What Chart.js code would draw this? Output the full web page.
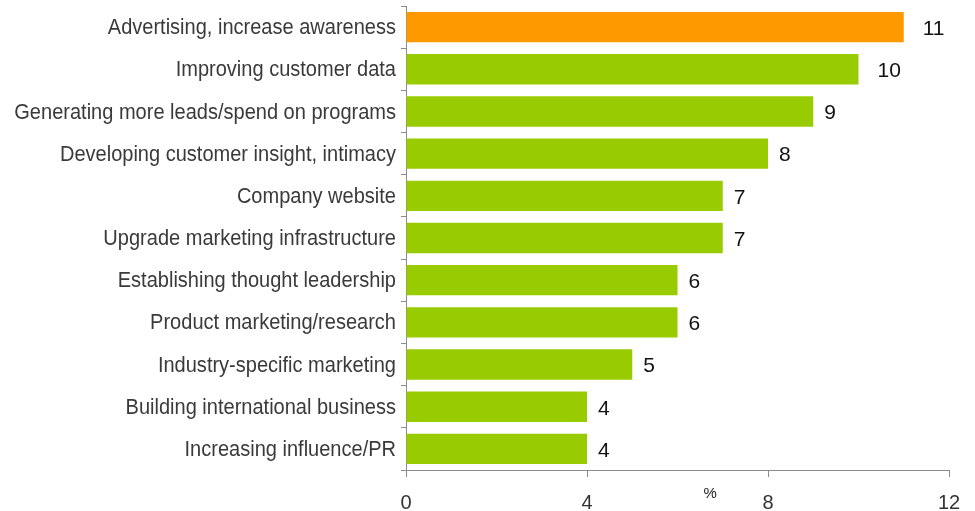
<!DOCTYPE html>
<html>
<head>
<meta charset="utf-8">
<title>Marketing priorities</title>
<script src="https://cdn.jsdelivr.net/npm/chart.js@4/dist/chart.umd.min.js"></script>
<style>
  html, body { margin: 0; padding: 0; background: #fff; }
  canvas { display: block; }
</style>
</head>
<body>
<canvas id="chart" width="975" height="511"></canvas>
<script>
  // categories, top to bottom
  const categories = [
    'Advertising, increase awareness',
    'Improving customer data',
    'Generating more leads/spend on programs',
    'Developing customer insight, intimacy',
    'Company website',
    'Upgrade marketing infrastructure',
    'Establishing thought leadership',
    'Product marketing/research',
    'Industry-specific marketing',
    'Building international business',
    'Increasing influence/PR'
  ];
  const shares = [11, 10, 9, 8, 7, 7, 6, 6, 5, 4, 4];
  const xTicks = [0, 4, 8, 12];

  const ORANGE = '#ff9900';
  const GREEN = '#99cc00';
  const AXIS = '#8c8c8c';
  const FONT = "'Liberation Sans', Arial, sans-serif";

  // category names, drawn slightly condensed so the long ones fit
  const categoryLabels = {
    id: 'categoryLabels',
    afterDraw(chart) {
      const y = chart.scales.y;
      const ctx = chart.ctx;
      const squeeze = 0.91;
      const right = y.right - 10;
      ctx.save();
      ctx.font = '22px ' + FONT;
      ctx.fillStyle = '#3a3a3a';
      ctx.textAlign = 'right';
      ctx.textBaseline = 'middle';
      categories.forEach((name, i) => {
        ctx.save();
        ctx.translate(right, y.getPixelForTick(i) + 1);
        ctx.scale(squeeze, 1);
        ctx.fillText(name, 0, 0);
        ctx.restore();
      });
      ctx.restore();
    }
  };

  // number to the right of each bar
  const valueLabels = {
    id: 'valueLabels',
    afterDatasetsDraw(chart) {
      const ctx = chart.ctx;
      const meta = chart.getDatasetMeta(0);
      ctx.save();
      ctx.font = '21px ' + FONT;
      ctx.fillStyle = '#111';
      ctx.textAlign = 'left';
      ctx.textBaseline = 'middle';
      meta.data.forEach((bar, i) => {
        const text = String(shares[i]);
        const gap = 11 + (text.length - 1) * 8;
        ctx.fillText(text, bar.x + gap, bar.y + 2);
      });
      ctx.restore();
    }
  };

  // small "%" unit mark under the axis
  const unitMark = {
    id: 'unitMark',
    afterDraw(chart) {
      const a = chart.chartArea;
      const ctx = chart.ctx;
      ctx.save();
      ctx.font = '15px ' + FONT;
      ctx.fillStyle = '#222';
      ctx.textAlign = 'center';
      ctx.textBaseline = 'middle';
      ctx.fillText('%', a.left + (a.right - a.left) * 0.56, a.bottom + 24);
      ctx.restore();
    }
  };

  new Chart(document.getElementById('chart'), {
    type: 'bar',
    data: {
      labels: categories,
      datasets: [{
        data: shares,
        backgroundColor: shares.map((v, i) => i === 0 ? ORANGE : GREEN),
        borderWidth: 0,
        barPercentage: 0.72,
        categoryPercentage: 1
      }]
    },
    options: {
      indexAxis: 'y',
      responsive: false,
      animation: false,
      layout: { padding: { top: 6, right: 26, left: 0, bottom: 0 } },
      plugins: {
        legend: { display: false },
        tooltip: { enabled: false }
      },
      scales: {
        x: {
          min: 0,
          max: 12,
          afterBuildTicks(scale) {
            scale.ticks = xTicks.map(v => ({ value: v }));
          },
          afterFit(scale) { scale.height = 41; },
          grid: {
            drawOnChartArea: false,
            drawTicks: true,
            tickLength: 7,
            color: AXIS
          },
          border: { display: true, color: AXIS, width: 1 },
          ticks: {
            padding: 14,
            color: '#333',
            font: { family: FONT, size: 20 }
          }
        },
        y: {
          afterFit(scale) { scale.width = 406; },
          grid: {
            offset: true,
            drawOnChartArea: false,
            drawTicks: true,
            tickLength: 5,
            color: AXIS
          },
          border: { display: true, color: AXIS, width: 1 },
          ticks: { display: false }
        }
      }
    },
    plugins: [valueLabels, categoryLabels, unitMark]
  });
</script>
</body>
</html>
